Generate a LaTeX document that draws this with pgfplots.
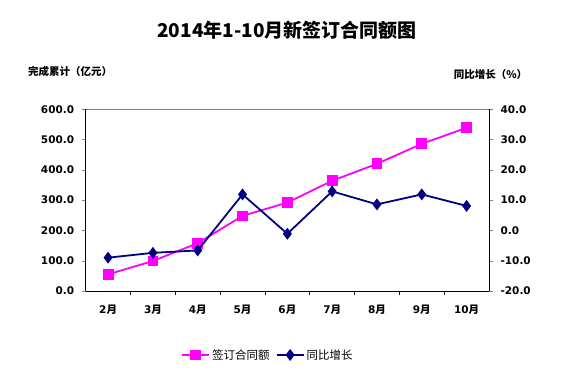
\documentclass[border=0pt]{standalone}
\usepackage{pgfplots}
\pgfplotsset{compat=1.18}
\usepackage{fontspec}
\setmainfont{DejaVu Sans}
\newfontfamily\cjk{Noto Sans CJK SC}
\definecolor{pk}{RGB}{255,0,255}
\definecolor{nv}{RGB}{0,0,128}
\begin{document}
\begin{tikzpicture}[x=1pt,y=1pt]
\path[use as bounding box] (-85.7,-84) rectangle (487.3,291);
\node[font=\cjk\bfseries\fontsize{19}{20}\selectfont] at (201.3,261) {2014年1-10月新签订合同额图};
\node[font=\cjk\bfseries\fontsize{10.5}{11}\selectfont, anchor=west] at (-61,219) {完成累计（亿元）};
\node[font=\cjk\bfseries\fontsize{10.5}{11}\selectfont, anchor=east] at (445,216) {同比增长（\%）};
\pgfplotsset{
  common/.style={
    at={(0,0)}, anchor=south west, scale only axis,
    width=403.3pt, height=181.7pt,
    xmin=-0.5, xmax=8.5,
    /pgf/number format/.cd, fixed, fixed zerofill, precision=1, assume math mode=true, /pgfplots/.cd,
    tick label style={font=\bfseries\fontsize{10.5}{11}\selectfont},
    tick align=outside, major tick length=4pt,
  }
}
\begin{axis}[common,
  ymin=0, ymax=600, ytick={0,100,200,300,400,500,600},
  axis x line*=bottom, axis y line*=left,
  axis line style={black, line width=0.8pt},
  yticklabel style={xshift=-4pt},
  xtick={0,1,2,3,4,5,6,7,8},
  xticklabels={2{\cjk 月},3{\cjk 月},4{\cjk 月},5{\cjk 月},6{\cjk 月},7{\cjk 月},8{\cjk 月},9{\cjk 月},10{\cjk 月}},
  xticklabel style={font=\bfseries\fontsize{10.5}{11}\selectfont, yshift=-6pt},
  x tick style={draw=none},
  minor xtick={0.5,1.5,2.5,3.5,4.5,5.5,6.5,7.5},
  minor x tick style={draw=black, line width=0.6pt},
  minor tick length=4pt,
  legend style={at={(0.452,-0.352)}, anchor=center, draw=none, fill=none,
    font=\cjk\fontsize{11.5}{12}\selectfont, legend columns=2,
    /tikz/every even column/.append style={column sep=4pt}},
  legend image code/.code={\draw[#1] (0pt,0pt) -- (27pt,0pt); \draw[#1, mark repeat=2, mark phase=2] plot coordinates {(0pt,0pt) (13.5pt,0pt) (27pt,0pt)};},
]
\draw[gray, line width=0.8pt] (axis cs:-0.5,600) -- (axis cs:8.5,600);
\addplot[pk, line width=1.8pt, mark=square*, mark size=4.5pt, mark options={solid}]
  coordinates {(0,55) (1,99) (2,158) (3,248) (4,292) (5,364) (6,420) (7,486) (8,539)};
\addlegendentry{签订合同额}
\addlegendimage{nv, line width=1.8pt, mark=diamond*, mark size=4.5pt}
\addlegendentry{同比增长}
\end{axis}
\begin{axis}[common,
  ymin=-20, ymax=40, ytick={-20,-10,0,10,20,30,40},
  axis x line=none, axis y line*=right,
  axis line style={black, line width=0.8pt},
  yticklabel style={xshift=4pt},
  xtick=\empty,
]
\addplot[nv, line width=1.8pt, mark=diamond*, mark size=4.5pt]
  coordinates {(0,-9.0) (1,-7.4) (2,-6.6) (3,11.9) (4,-1.1) (5,12.9) (6,8.6) (7,11.9) (8,8.1)};
\end{axis}
\end{tikzpicture}
\end{document}
